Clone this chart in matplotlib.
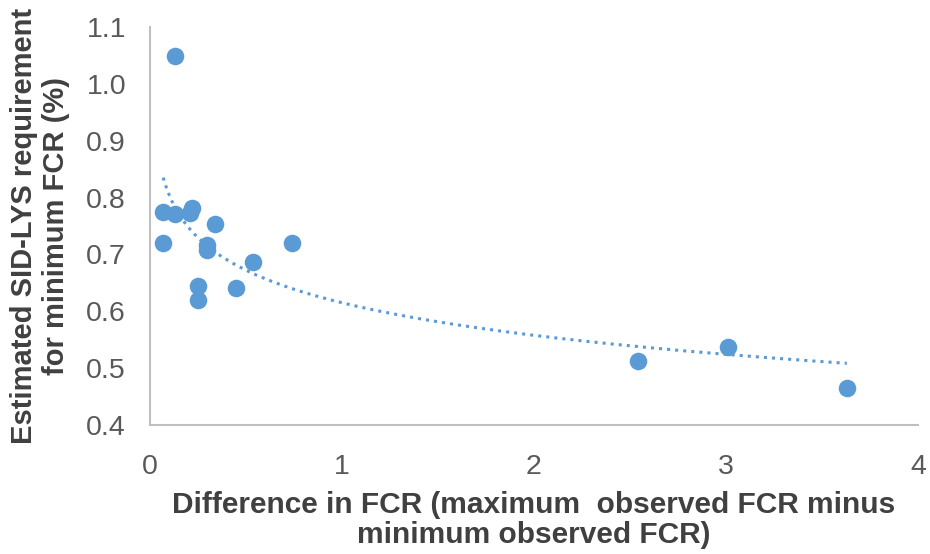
import numpy as np
import matplotlib
matplotlib.use('Agg')
import matplotlib.pyplot as plt

# Difference in FCR vs estimated SID-LYS requirement
fcr_diff = [0.07, 0.13, 0.22, 0.21, 0.34, 0.07, 0.30, 0.30, 0.74, 0.54,
            0.25, 0.25, 0.45, 0.13, 2.54, 3.01, 3.63]
sid_lys = [0.775, 0.771, 0.782, 0.773, 0.753, 0.720, 0.716, 0.708, 0.720, 0.687,
           0.644, 0.620, 0.641, 1.049, 0.513, 0.537, 0.465]
x_ticks = [0, 1, 2, 3, 4]
y_ticks = [0.4, 0.5, 0.6, 0.7, 0.8, 0.9, 1.0, 1.1]

blue = '#5B9BD5'
plt.rcParams['font.family'] = ['Liberation Sans', 'DejaVu Sans']

fig = plt.figure(figsize=(9.3, 5.54), dpi=100)
ax = fig.add_axes([0.161, 0.233, 0.826, 0.718])

ax.scatter(fcr_diff, sid_lys, s=160, color=blue, zorder=3, linewidths=0)

# logarithmic trendline fitted to the points
x = np.array(fcr_diff)
b, a = np.polyfit(np.log(x), np.array(sid_lys), 1)
xs = np.linspace(x.min(), x.max(), 300)
ax.plot(xs, a + b * np.log(xs), color=blue, linestyle=':', linewidth=2.2, zorder=2)

ax.set_xlim(0, 4)
ax.set_ylim(0.4, 1.1)
ax.set_xticks(x_ticks)
ax.set_yticks(y_ticks)
ax.set_yticklabels([f'{v:.1f}' for v in y_ticks])
ax.tick_params(length=0, labelsize=20.5, labelcolor='#595959')
ax.tick_params(axis='y', pad=17)
ax.tick_params(axis='x', pad=21)

for s in ['top', 'right']:
    ax.spines[s].set_visible(False)
for s in ['left', 'bottom']:
    ax.spines[s].set_color('#BFBFBF')
    ax.spines[s].set_linewidth(1.5)

ax.set_xlabel('Difference in FCR (maximum  observed FCR minus\nminimum observed FCR)',
              fontsize=21.5, fontweight='bold', color='#404040', labelpad=8, linespacing=1.1)
ax.set_ylabel('Estimated SID-LYS requirement\nfor minimum FCR (%)',
              fontsize=21, fontweight='bold', color='#404040', labelpad=12, linespacing=1.15)

fig.savefig('out.png', dpi=100)
